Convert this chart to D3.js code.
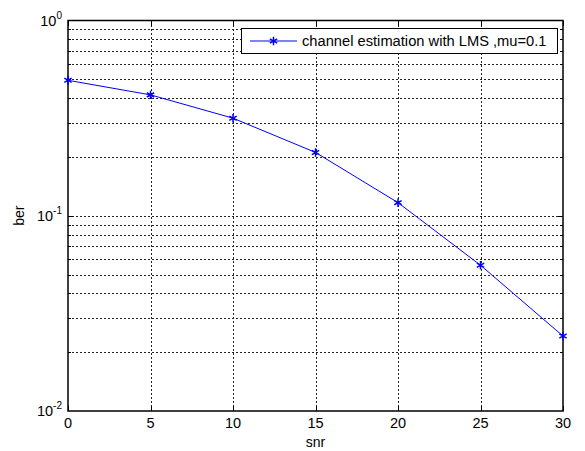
<!DOCTYPE html>
<html>
<head>
<meta charset="utf-8">
<script src="https://cdn.jsdelivr.net/npm/d3@7"></script>
<style>
  body { margin: 0; background: #fff; }
  svg { display: block; font-family: "Liberation Sans", Arial, sans-serif; }
</style>
</head>
<body>
<div id="chart"></div>
<script>
const snr = [0, 5, 10, 15, 20, 25, 30];
const ber = [0.494, 0.416, 0.316, 0.211, 0.1167, 0.0558, 0.0242];
const xTicks = [0, 5, 10, 15, 20, 25, 30];
const yDecades = [0, -1, -2];
const legendLabel = `channel estimation with LMS ,mu=0.1`;

const width = 585;
const height = 451;
const margin = { top: 20.5, right: 22, bottom: 40, left: 68 };

const svg = d3.select(`#chart`).append(`svg`)
  .attr(`width`, width)
  .attr(`height`, height);

svg.append(`rect`).attr(`width`, width).attr(`height`, height).attr(`fill`, `#fff`);

const xScale = d3.scaleLinear()
  .domain([0, 30])
  .range([margin.left, width - margin.right]);
const yScale = d3.scaleLog()
  .domain([0.01, 1])
  .range([height - margin.bottom, margin.top]);

const x0 = xScale.range()[0], x1 = xScale.range()[1];
const y0 = yScale.range()[0], y1 = yScale.range()[1];

// grid
const minor = [];
[0.01, 0.1].forEach((d) => {
  for (let k = 2; k <= 9; k++) minor.push(d * k);
});
const gridY = minor.concat([0.1]);
const grid = svg.append(`g`)
  .attr(`stroke`, `#222`)
  .attr(`stroke-width`, 1)
  .attr(`stroke-dasharray`, `2,2`)
  .attr(`shape-rendering`, `crispEdges`);
grid.selectAll(`.gy`).data(gridY).enter().append(`line`)
  .attr(`x1`, x0).attr(`x2`, x1)
  .attr(`y1`, (d) => Math.round(yScale(d)) + 0.5)
  .attr(`y2`, (d) => Math.round(yScale(d)) + 0.5);
grid.selectAll(`.gx`).data(xTicks.slice(1, -1)).enter().append(`line`)
  .attr(`y1`, y0).attr(`y2`, y1)
  .attr(`x1`, (d) => Math.round(xScale(d)) + 0.5)
  .attr(`x2`, (d) => Math.round(xScale(d)) + 0.5);

// ticks inside on all sides
const ticks = svg.append(`g`).attr(`stroke`, `#000`).attr(`shape-rendering`, `crispEdges`);
xTicks.forEach((t) => {
  const x = Math.round(xScale(t)) + 0.5;
  ticks.append(`line`).attr(`x1`, x).attr(`x2`, x).attr(`y1`, y0).attr(`y2`, y0 - 5);
  ticks.append(`line`).attr(`x1`, x).attr(`x2`, x).attr(`y1`, y1).attr(`y2`, y1 + 5);
});
minor.concat([0.1]).forEach((t) => {
  const y = Math.round(yScale(t)) + 0.5;
  const len = t === 0.1 ? 5 : 3;
  ticks.append(`line`).attr(`x1`, x0).attr(`x2`, x0 + len).attr(`y1`, y).attr(`y2`, y);
  ticks.append(`line`).attr(`x1`, x1).attr(`x2`, x1 - len).attr(`y1`, y).attr(`y2`, y);
});

// frame
svg.append(`rect`)
  .attr(`x`, x0).attr(`y`, y1)
  .attr(`width`, x1 - x0).attr(`height`, y0 - y1)
  .attr(`fill`, `none`).attr(`stroke`, `#000`).attr(`stroke-width`, 1.5);

// x tick labels
svg.append(`g`).selectAll(`text`).data(xTicks).enter().append(`text`)
  .attr(`x`, (d) => xScale(d))
  .attr(`y`, y0 + 17)
  .attr(`text-anchor`, `middle`)
  .attr(`font-size`, 14.5)
  .text((d) => d);

// y tick labels 10^n
const yl = svg.append(`g`);
yDecades.forEach((p) => {
  const t = yl.append(`text`)
    .attr(`x`, x0 - 6)
    .attr(`y`, yScale(Math.pow(10, p)) + 5)
    .attr(`text-anchor`, `end`)
    .attr(`font-size`, 14.5);
  t.append(`tspan`).text(`10`);
  t.append(`tspan`).attr(`dy`, -7).attr(`font-size`, 10).text(p);
});

// axis titles
svg.append(`text`)
  .attr(`x`, (x0 + x1) / 2)
  .attr(`y`, y0 + 36)
  .attr(`text-anchor`, `middle`)
  .attr(`font-size`, 14)
  .text(`snr`);
svg.append(`text`)
  .attr(`transform`, `translate(24,${yScale(0.1)}) rotate(-90)`)
  .attr(`text-anchor`, `middle`)
  .attr(`font-size`, 14)
  .text(`ber`);

// data line
const pts = snr.map((s, i) => [s, ber[i]]);
const line = d3.line().x((d) => xScale(d[0])).y((d) => yScale(d[1]));
svg.append(`path`)
  .attr(`d`, line(pts))
  .attr(`fill`, `none`)
  .attr(`stroke`, `#0000ff`)
  .attr(`stroke-width`, 1);

const star = d3.symbol().type(d3.symbolAsterisk).size(50);
svg.append(`g`).selectAll(`path`).data(pts).enter().append(`path`)
  .attr(`transform`, (d) => `translate(${xScale(d[0])},${yScale(d[1])})`)
  .attr(`d`, star)
  .attr(`fill`, `none`)
  .attr(`stroke`, `#0000ff`)
  .attr(`stroke-width`, 1.5);

// legend
const lg = svg.append(`g`);
lg.append(`rect`)
  .attr(`x`, 241.5).attr(`y`, 28.5)
  .attr(`width`, 316).attr(`height`, 25)
  .attr(`fill`, `#fff`).attr(`stroke`, `#000`).attr(`stroke-width`, 1);
lg.append(`line`)
  .attr(`x1`, 250).attr(`x2`, 297).attr(`y1`, 41).attr(`y2`, 41)
  .attr(`stroke`, `#0000ff`);
lg.append(`path`)
  .attr(`transform`, `translate(273.5,41)`)
  .attr(`d`, star)
  .attr(`fill`, `none`)
  .attr(`stroke`, `#0000ff`)
  .attr(`stroke-width`, 1.5);
lg.append(`text`)
  .attr(`x`, 302).attr(`y`, 46)
  .attr(`font-size`, 14.7)
  .text(legendLabel);
</script>
</body>
</html>
